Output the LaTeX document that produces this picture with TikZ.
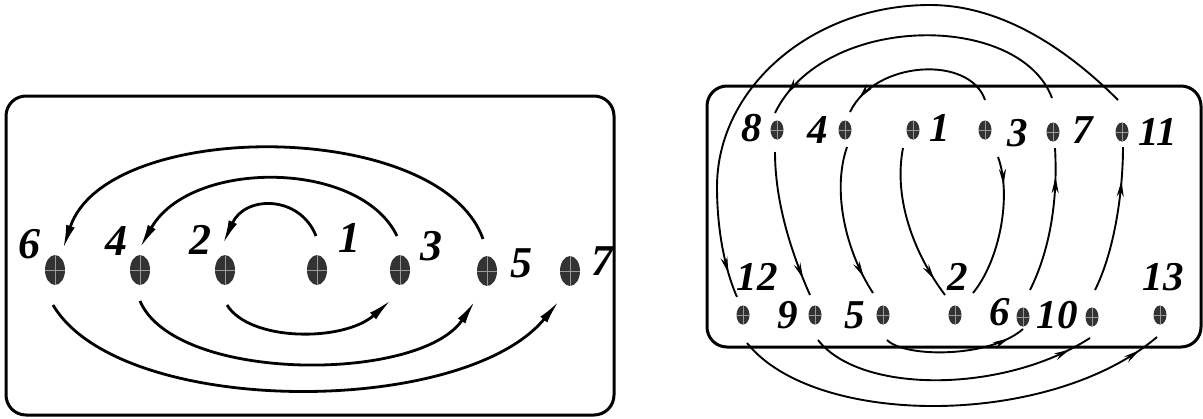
\documentclass[tikz,border=0pt]{standalone}
\usepackage{fontspec}
\setmainfont{Liberation Serif}
\usetikzlibrary{arrows.meta,calc,decorations.markings,shapes.geometric}
\begin{document}
\begin{tikzpicture}[x=1pt,y=-1pt,
  crosspic/.style={path picture={\draw[black!40,line width=0.7pt]
      (path picture bounding box.north) -- (path picture bounding box.south)
      (path picture bounding box.west) -- (path picture bounding box.east);}},
  ldot/.style={ellipse, fill=black!80, minimum width=20pt, minimum height=30pt, inner sep=0pt, crosspic},
  rdot/.style={ellipse, fill=black!80, minimum width=13pt, minimum height=19pt, inner sep=0pt, crosspic},
  lab/.style={font=\fontsize{44}{44}\selectfont\bfseries\itshape, inner sep=0pt},
  rlab/.style={font=\fontsize{41}{41}\selectfont\bfseries\itshape, inner sep=0pt},
  larc/.style={line width=2.8pt, -{Latex[length=24pt,width=9pt]}},
  rarc/.style={line width=1.9pt},
  rmark/.style={postaction={decorate}, decoration={markings,
      mark=at position #1 with {\arrow{Stealth[length=16pt,width=7pt]}}}},
  panel/.style={line width=3pt, rounded corners=20pt}
]
\useasboundingbox (0,0) rectangle (1203,418);

% ---------- left panel ----------
\draw[panel] (6,96) rectangle (614,415);
\node[ldot] (L6) at (55,270) {};
\node[ldot] (L4) at (140,270) {};
\node[ldot] (L2) at (225,270) {};
\node[ldot] (L1) at (317,270) {};
\node[ldot] (L3) at (400,270) {};
\node[ldot] (L5) at (487,271) {};
\node[ldot] (L7) at (570,271) {};
\node[lab] (tL6) at (29,244) {6};
\node[lab] (tL4) at (116,241) {4};
\node[lab] (tL2) at (200,240) {2};
\node[lab] (tL1) at (349,238) {1};
\node[lab] (tL3) at (431,246) {3};
\node[lab] (tL5) at (521,263) {5};
\node[lab] (tL7) at (602,261) {7};

\draw[larc] ($(L1)+(-1,-34)$) .. controls (300,195) and (245,195) .. ($(L2)+(-2,-26)$);
\draw[larc] ($(L3)+(-3,-34)$) .. controls (360,159) and (190,159) .. ($(L4)+(0,-22)$);
\draw[larc] ($(L5)+(-4,-32)$) .. controls (440,118) and (106,118) .. ($(L6)+(8,-21)$);
\draw[larc] ($(L2)+(2,35)$) .. controls (250,342) and (344,342) .. ($(L3)+(-9,30)$);
\draw[larc] ($(L4)+(0,31)$) .. controls (175,383) and (420,383) .. ($(L5)+(-12,30)$);
\draw[larc] ($(L6)+(-2,35)$) .. controls (120,418) and (463,418) .. ($(L7)+(-11,30)$);

% ---------- right panel ----------
\draw[panel] (707,86) rectangle (1201,347);
\node[rdot] (R8) at (777,130) {};
\node[rdot] (R4) at (845,130) {};
\node[rdot] (R1) at (913,130) {};
\node[rdot] (R3) at (985,130) {};
\node[rdot] (R7) at (1053,132) {};
\node[rdot] (R11) at (1122,132) {};
\node[rdot] (R12) at (743,315) {};
\node[rdot] (R9) at (815,315) {};
\node[rdot] (R5) at (883,315) {};
\node[rdot] (R2) at (955,315) {};
\node[rdot] (R6) at (1023,317) {};
\node[rdot] (R10) at (1092,317) {};
\node[rdot] (R13) at (1160,315) {};
\node[rlab] (tR8) at (752,128) {8};
\node[rlab] (tR4) at (818,130) {4};
\node[rlab] (tR1) at (940,128) {1};
\node[rlab] (tR3) at (1018,133) {3};
\node[rlab] (tR7) at (1083,130) {7};
\node[rlab] (tR11) at (1158,132) {11};
\node[rlab] (tR12) at (757,277) {12};
\node[rlab] (tR9) at (788,315) {9};
\node[rlab] (tR5) at (855,315) {5};
\node[rlab] (tR2) at (958,277) {2};
\node[rlab] (tR6) at (1000,312) {6};
\node[rlab] (tR10) at (1057,315) {10};
\node[rlab] (tR13) at (1163,277) {13};

\draw[rarc, rmark=0.88] ($(R1)+(-10,18)$) .. controls (893,200) and (915,255) .. ($(R2)+(-10,-20)$);
\draw[rarc, rmark=0.2] ($(R3)+(13,27)$) .. controls (1012,195) and (1000,260) .. ($(R2)+(18,-22)$);
\draw[rarc, rmark=0.9] ($(R3)+(0,-30)$) .. controls (970,55) and (875,60) .. ($(R4)+(5,-18)$);
\draw[rarc, rmark=0.88] ($(R4)+(2,17)$) .. controls (832,190) and (845,250) .. ($(R5)+(-10,-22)$);
\draw[rarc, rmark=0.88] ($(R5)+(4,25)$) .. controls (905,358) and (990,358) .. ($(R6)+(0,12)$);
\draw[rarc, rmark=0.8] ($(R6)+(7,-27)$) .. controls (1050,250) and (1058,200) .. ($(R7)+(2,16)$);
\draw[rarc, rmark=0.93] ($(R7)+(-1,-34)$) .. controls (1020,12) and (824,12) .. ($(R8)+(-2,-17)$);
\draw[rarc, rmark=0.88] ($(R8)+(-2,22)$) .. controls (775,200) and (790,250) .. ($(R9)+(-5,-20)$);
\draw[rarc, rmark=0.92] ($(R9)+(3,25)$) .. controls (860,394) and (1003,394) .. ($(R10)+(-2,21)$);
\draw[rarc, rmark=0.77] ($(R10)+(3,-27)$) .. controls (1115,250) and (1123,190) .. ($(R11)+(1,15)$);
\draw[rarc, rmark=0.96] ($(R11)+(-4,-32)$) .. controls (1078,60) and (1010,5) .. (930,5)
   .. controls (813,5) and (717,87) .. (717,187)
   .. controls (717,230) and (725,270) .. ($(R12)+(-6,-18)$);
\draw[rarc, rmark=0.95] ($(R12)+(4,28)$) .. controls (815,428) and (1050,428) .. ($(R13)+(-3,22)$);
\end{tikzpicture}
\end{document}
